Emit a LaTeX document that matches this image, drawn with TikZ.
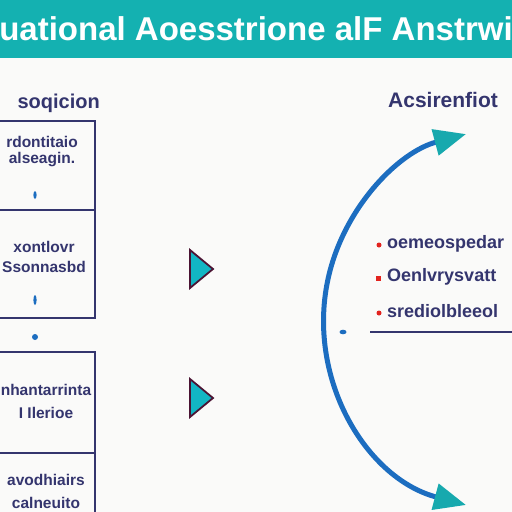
\documentclass[tikz,border=0pt]{standalone}
\usepackage{fontspec}
\setmainfont{Liberation Sans}
\usepackage{tikz}
\usepackage{xcolor}
\usetikzlibrary{arrows.meta,positioning}
\definecolor{bandteal}{HTML}{14B1B1}
\definecolor{navy}{HTML}{34356E}
\definecolor{cycleblue}{HTML}{1C6DC0}
\definecolor{tipteal}{HTML}{17A9AE}
\definecolor{markred}{HTML}{E2231F}
\definecolor{paper}{HTML}{FAFAF9}
\definecolor{trifill}{HTML}{12B6C4}
\definecolor{triedge}{HTML}{4B1434}

\begin{document}
\begin{tikzpicture}[x=1pt,y=-1pt,
		boxline/.style={draw=navy, line width=1.4pt},
		boxtext/.style={navy, align=center, inner sep=0pt},
		listtext/.style={navy, anchor=west, inner sep=0pt, font=\fontsize{18}{20}\selectfont\bfseries},
		playtri/.style={fill=trifill, draw=triedge, line width=1.8pt, line join=miter},
		cyclearc/.style={cycleblue, line width=5pt, {Triangle[length=32pt,width=26pt,color=tipteal]}-{Triangle[length=32pt,width=26pt,color=tipteal]}}]
			\useasboundingbox (0,0) rectangle (512,512);
			\clip (0,0) rectangle (512,512);
			\fill[paper] (0,0) rectangle (512,512);
			\fill[bandteal] (0,0) rectangle (512,58);
			\node[white, inner sep=0pt, font=\fontsize{33}{36}\selectfont\bfseries] (title) at (256,29) {uational Aoesstrione alF Anstrwi};
			\node[navy, anchor=east, inner sep=0pt, font=\fontsize{20}{22}\selectfont\bfseries] (lefthead) at (100,103) {soqicion};
			\draw[boxline] (-5,121) rectangle (95,210);
			\draw[boxline] (-5,210) rectangle (95,318);
			\draw[boxline] (-5,352) rectangle (95,453);
			\draw[boxline] (-5,453) rectangle (95,530);
			\node[boxtext, font=\fontsize{15.5}{16}\selectfont\bfseries] (boxa) at (42,152) {rdontitaio\\alseagin.};
			\node[boxtext, font=\fontsize{15.5}{20}\selectfont\bfseries] (boxb) at (44,257) {xontlovr\\Ssonnasbd};
			\node[boxtext, font=\fontsize{15.5}{23}\selectfont\bfseries] (boxc) at (46,401) {nhantarrinta\\I Ilerioe};
			\node[boxtext, font=\fontsize{15.5}{23}\selectfont\bfseries] (boxd) at (46,491) {avodhiairs\\calneuito};
			\fill[cycleblue] (35,195) ellipse (1.6 and 4);
			\fill[cycleblue] (35,300) ellipse (1.6 and 5);
			\fill[cycleblue] (35,337) circle (3);
			\draw[playtri] (190,250) -- (213,269) -- (190,288) -- cycle;
			\draw[playtri] (190,379) -- (213,398) -- (190,417) -- cycle;
			\node[navy, anchor=west, inner sep=0pt, font=\fontsize{21}{24}\selectfont\bfseries] (righthead) at (388,100) {Acsirenfiot};
			\coordinate (cyclebot) at (466,505);
			\draw[cyclearc] (cyclebot) arc[start angle=105, end angle=255, radius=192];
			\fill[markred] (379,245) circle (2.5);
			\fill[markred] (375.5,275.5) rectangle (380.5,280.5);
			\fill[markred] (379,313) circle (2.5);
			\node[listtext] (itema) at (387,244) {oemeospedar};
			\node[listtext] (itemb) at (387,277) {Oenlvrysvatt};
			\node[listtext] (itemc) at (387,311) {srediolbleeol};
			\coordinate (ruleend) at (512,332);
			\draw[navy, line width=1.3pt] (370,332) -- (ruleend);
			\fill[cycleblue] (343,332) ellipse (3.5 and 2.3);
		\end{tikzpicture}
\end{document}
